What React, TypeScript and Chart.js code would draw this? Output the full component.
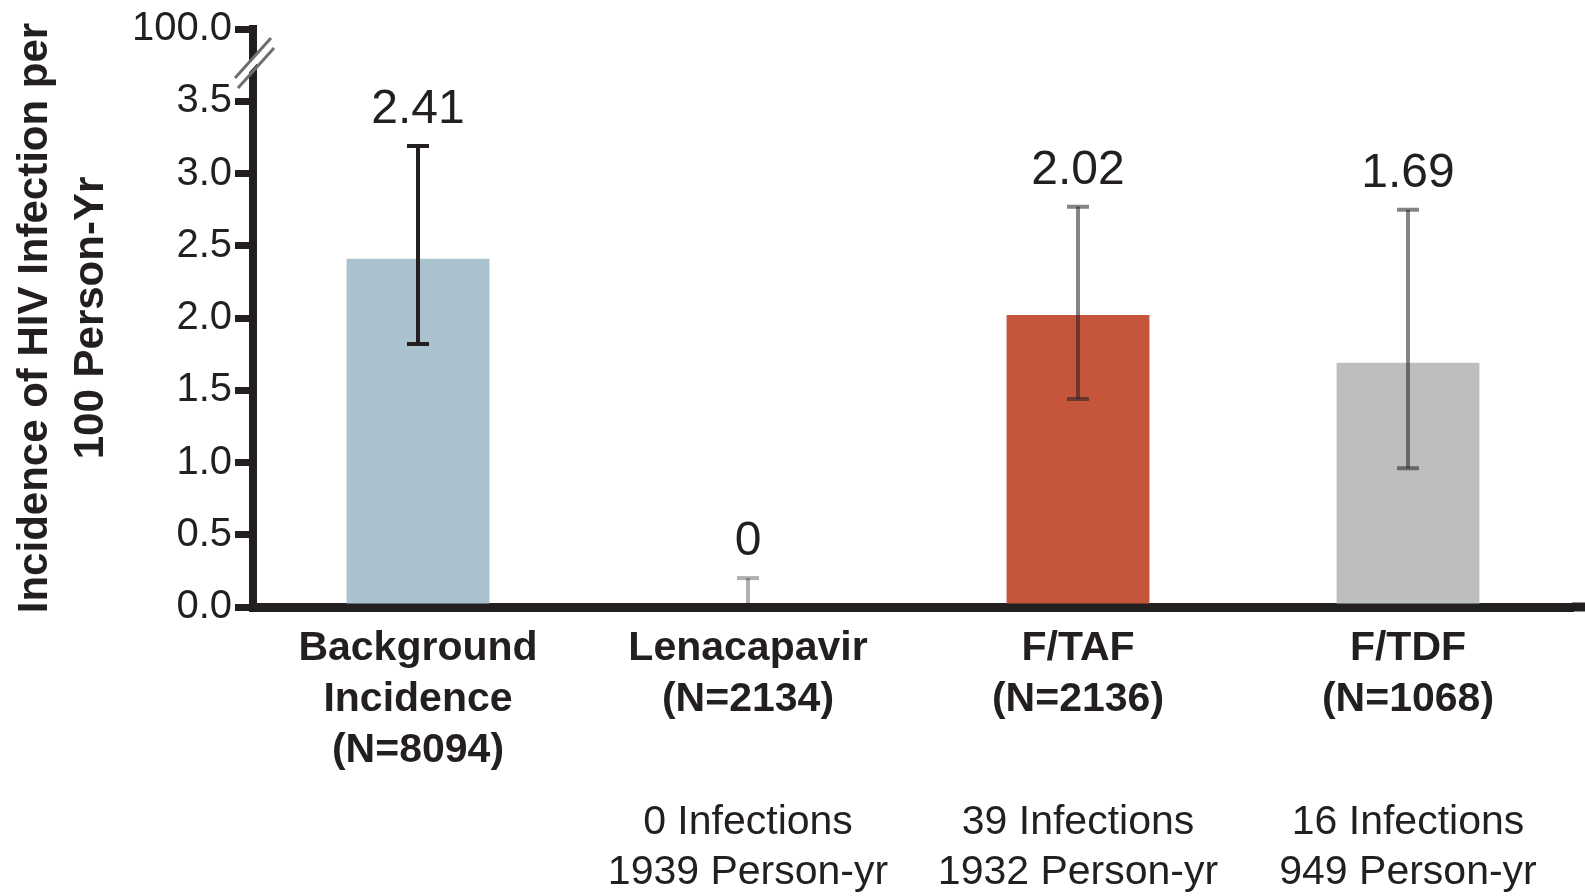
import React, { useEffect, useRef } from "react";
import { Chart, registerables } from "chart.js";

Chart.register(...registerables);

const FONT = "'Liberation Sans', Arial, sans-serif";
const INK = "#231f20";

const categories: string[][] = [
  ["Background", "Incidence", "(N=8094)"],
  ["Lenacapavir", "(N=2134)"],
  ["F/TAF", "(N=2136)"],
  ["F/TDF", "(N=1068)"],
];
const incidence = [2.41, 0, 2.02, 1.69];
const ciLower = [1.82, 0, 1.44, 0.96];
const ciUpper = [3.19, 0.2, 2.77, 2.75];
const valueLabels = ["2.41", "0", "2.02", "1.69"];
const infectionLines: string[][] = [
  [],
  ["0 Infections", "1939 Person-yr"],
  ["39 Infections", "1932 Person-yr"],
  ["16 Infections", "949 Person-yr"],
];
const yTickValues = [0, 0.5, 1, 1.5, 2, 2.5, 3, 3.5, 4];
const yTickLabels = ["0.0", "0.5", "1.0", "1.5", "2.0", "2.5", "3.0", "3.5", "100.0"];
const yTitle = ["Incidence of HIV Infection per", "100 Person-Yr"];
const barColors = ["#aac1ce", "#aac1ce", "#c5563c", "#bdbec0"];
const errorColors = [INK, "rgba(35,31,32,0.35)", "rgba(35,31,32,0.55)", "rgba(35,31,32,0.55)"];

const errorBarPlugin = {
  id: "errorBars",
  afterDatasetsDraw(chart: any) {
    const { ctx } = chart;
    const xs = chart.scales.x;
    const ys = chart.scales.y;
    ctx.save();
    incidence.forEach((_, i) => {
      const x = xs.getPixelForValue(i);
      const yHi = ys.getPixelForValue(ciUpper[i]);
      const yLo = ys.getPixelForValue(ciLower[i]);
      ctx.strokeStyle = errorColors[i];
      ctx.lineWidth = 4;
      ctx.lineCap = "butt";
      ctx.beginPath();
      ctx.moveTo(x, yHi);
      ctx.lineTo(x, yLo);
      ctx.stroke();
      ctx.beginPath();
      ctx.moveTo(x - 11, yHi);
      ctx.lineTo(x + 11, yHi);
      if (ciLower[i] > 0) {
        ctx.moveTo(x - 11, yLo);
        ctx.lineTo(x + 11, yLo);
      }
      ctx.stroke();
      ctx.fillStyle = INK;
      ctx.font = `48px ${FONT}`;
      ctx.textAlign = "center";
      ctx.textBaseline = "alphabetic";
      ctx.fillText(valueLabels[i], x, yHi - 23);
    });
    ctx.restore();
  },
};

const extrasPlugin = {
  id: "extras",
  afterDraw(chart: any) {
    const { ctx, chartArea } = chart;
    const xs = chart.scales.x;
    ctx.save();
    // extend the x-axis line to the right edge of the canvas
    ctx.strokeStyle = INK;
    ctx.lineWidth = 9;
    ctx.beginPath();
    ctx.moveTo(chartArea.right - 1, chartArea.bottom);
    ctx.lineTo(chart.width, chartArea.bottom);
    ctx.stroke();

    ctx.fillStyle = INK;
    ctx.font = `41px ${FONT}`;
    ctx.textAlign = "center";
    ctx.textBaseline = "alphabetic";
    infectionLines.forEach((lines, i) => {
      const x = xs.getPixelForValue(i);
      lines.forEach((t, k) => ctx.fillText(t, x, chartArea.bottom + 227 + k * 50));
    });
    // axis break marks
    const ax = chartArea.left;
    const y0 = chartArea.top + 33;
    const dx = 18;
    const dy = 20;
    ctx.fillStyle = "#ffffff";
    ctx.beginPath();
    ctx.moveTo(ax - dx, y0 + dy - 4);
    ctx.lineTo(ax + dx, y0 - dy - 4);
    ctx.lineTo(ax + dx, y0 - dy + 6);
    ctx.lineTo(ax - dx, y0 + dy + 6);
    ctx.closePath();
    ctx.fill();
    ctx.strokeStyle = "#6f6f6f";
    ctx.lineWidth = 3;
    ctx.beginPath();
    ctx.moveTo(ax - dx, y0 + dy - 4);
    ctx.lineTo(ax + dx, y0 - dy - 4);
    ctx.moveTo(ax - dx + 3, y0 + dy + 6);
    ctx.lineTo(ax + dx + 3, y0 - dy + 6);
    ctx.stroke();
    ctx.restore();
  },
};

export default function App() {
  const ref = useRef<HTMLCanvasElement | null>(null);
  useEffect(() => {
    if (!ref.current) return;
    const chart = new Chart(ref.current, {
      type: "bar",
      data: {
        labels: categories,
        datasets: [
          {
            data: incidence,
            backgroundColor: barColors,
            borderWidth: 0,
            barPercentage: 0.433,
            categoryPercentage: 1,
          },
        ],
      },
      options: {
        responsive: false,
        animation: false,
        layout: { padding: { top: 29, left: 0, right: 12, bottom: 0 } },
        plugins: { legend: { display: false }, tooltip: { enabled: false } },
        scales: {
          x: {
            type: "category",
            z: 1,
            afterFit: (s: any) => {
              s.height = 289;
            },
            grid: { display: false, drawTicks: false },
            border: { display: true, width: 9, color: INK },
            ticks: {
              color: INK,
              padding: 16,
              maxRotation: 0,
              autoSkip: false,
              font: { family: FONT, size: 41, weight: "bold", lineHeight: 1.25 },
            },
          },
          y: {
            min: 0,
            max: 4,
            afterFit: (s: any) => {
              s.width = 253;
            },
            afterBuildTicks: (s: any) => {
              s.ticks = yTickValues.map((v) => ({ value: v }));
            },
            grid: { drawOnChartArea: false, drawTicks: true, tickLength: 18, lineWidth: 7, color: INK },
            border: { display: true, width: 8, color: INK },
            ticks: {
              color: INK,
              padding: 3,
              font: { family: FONT, size: 40 },
              callback: (_v: any, i: number) => yTickLabels[i],
            },
            title: {
              display: true,
              text: yTitle,
              color: INK,
              font: { family: FONT, size: 42, weight: "bold", lineHeight: 56 / 42 },
              padding: { top: 7, bottom: 0 },
            },
          },
        },
      },
      plugins: [errorBarPlugin, extrasPlugin],
    });
    return () => chart.destroy();
  }, []);
  return (
    <div style={{ position: "fixed", left: 0, top: 0, width: 1585, height: 896, background: "#fff" }}>
      <canvas ref={ref} width={1585} height={896} style={{ display: "block", width: 1585, height: 896 }} />
    </div>
  );
}
